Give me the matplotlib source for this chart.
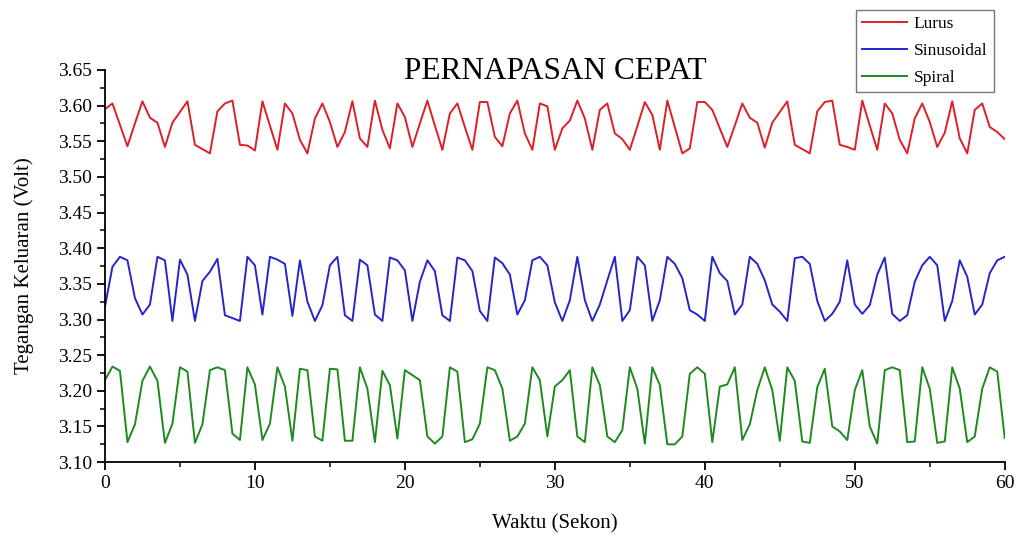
import numpy as np
import matplotlib.pyplot as plt
from matplotlib.ticker import MultipleLocator

plt.rcParams['font.family'] = ['Liberation Serif', 'DejaVu Serif']

# waktu sampel tiap 0.5 detik
waktu = np.arange(0, 60.5, 0.5)

lurus = [
    3.595, 3.603, 3.573, 3.543, 3.575, 3.606, 3.583, 3.576, 3.542, 3.576,
    3.591, 3.606, 3.545, 3.539, 3.533, 3.592, 3.603, 3.607, 3.545, 3.544,
    3.537, 3.606, 3.572, 3.538, 3.603, 3.589, 3.552, 3.533, 3.582, 3.603,
    3.577, 3.542, 3.563, 3.606, 3.554, 3.542, 3.607, 3.566, 3.540, 3.603,
    3.584,
    3.542, 3.575, 3.607, 3.572, 3.538, 3.589, 3.603, 3.570, 3.538, 3.605,
    3.605, 3.556, 3.543, 3.589, 3.607, 3.561, 3.538, 3.603, 3.599, 3.538,
    3.568, 3.579, 3.607, 3.582, 3.538, 3.594, 3.603, 3.561, 3.553, 3.538,
    3.571, 3.605, 3.587, 3.538, 3.607, 3.570, 3.533, 3.540, 3.605, 3.605,
    3.594, 3.568, 3.542, 3.572, 3.603, 3.583, 3.576, 3.541, 3.576, 3.591,
    3.606, 3.545, 3.539, 3.533, 3.592, 3.605, 3.607, 3.545, 3.542, 3.538,
    3.607, 3.572, 3.538, 3.603, 3.589, 3.552, 3.533, 3.582, 3.603, 3.577,
    3.542, 3.562, 3.606, 3.554, 3.533, 3.594, 3.603, 3.570, 3.563, 3.553,
]

sinusoidal = [
    3.318, 3.374, 3.388, 3.383, 3.330, 3.307, 3.321, 3.388, 3.383, 3.298,
    3.384, 3.363, 3.298, 3.354, 3.367, 3.385, 3.306, 3.302, 3.298, 3.388,
    3.376, 3.307, 3.388, 3.384, 3.378, 3.305, 3.383, 3.325, 3.298, 3.320,
    3.376, 3.388, 3.306, 3.298, 3.384, 3.376, 3.307, 3.298, 3.387, 3.383,
    3.369,
    3.298, 3.353, 3.383, 3.368, 3.306, 3.298, 3.387, 3.383, 3.368, 3.312,
    3.298, 3.387, 3.379, 3.363, 3.307, 3.327, 3.383, 3.388, 3.376, 3.324,
    3.298, 3.327, 3.388, 3.327, 3.298, 3.321, 3.355, 3.388, 3.298, 3.313,
    3.388, 3.376, 3.298, 3.327, 3.388, 3.378, 3.358, 3.313, 3.307, 3.298,
    3.388, 3.365, 3.354, 3.307, 3.321, 3.388, 3.378, 3.355, 3.321, 3.311,
    3.298, 3.386, 3.388, 3.378, 3.326, 3.298, 3.308, 3.325, 3.383, 3.321,
    3.308, 3.320, 3.363, 3.387, 3.308, 3.298, 3.306, 3.353, 3.376, 3.388,
    3.376, 3.298, 3.326, 3.383, 3.360, 3.307, 3.321, 3.365, 3.383, 3.388,
]

spiral = [
    3.215, 3.234, 3.228, 3.128, 3.153, 3.214, 3.234, 3.214, 3.127, 3.154,
    3.233, 3.227, 3.127, 3.153, 3.229, 3.233, 3.229, 3.140, 3.131, 3.233,
    3.209, 3.131, 3.154, 3.233, 3.206, 3.130, 3.231, 3.229, 3.136, 3.130,
    3.231, 3.230, 3.130, 3.130, 3.233, 3.203, 3.128, 3.228, 3.208, 3.133,
    3.229,
    3.222, 3.215, 3.136, 3.126, 3.136, 3.233, 3.227, 3.128, 3.132, 3.154,
    3.233, 3.229, 3.203, 3.130, 3.136, 3.154, 3.233, 3.215, 3.136, 3.206,
    3.215, 3.229, 3.136, 3.128, 3.233, 3.208, 3.136, 3.128, 3.145, 3.233,
    3.203, 3.126, 3.233, 3.208, 3.125, 3.125, 3.136, 3.224, 3.233, 3.224,
    3.128, 3.206, 3.209, 3.233, 3.131, 3.153, 3.201, 3.233, 3.201, 3.130,
    3.233, 3.214, 3.129, 3.127, 3.205, 3.231, 3.150, 3.143, 3.131, 3.201,
    3.229, 3.150, 3.126, 3.229, 3.233, 3.229, 3.128, 3.129, 3.233, 3.203,
    3.127, 3.129, 3.233, 3.203, 3.128, 3.136, 3.203, 3.233, 3.227, 3.134,
]

fig = plt.figure(figsize=(10.19, 5.38), dpi=100)
ax = fig.add_axes([0.103, 0.141, 0.883, 0.729])

ax.plot(waktu, lurus, color='#dc2027', lw=1.4, label='Lurus')
ax.plot(waktu, sinusoidal, color='#2626c8', lw=1.4, label='Sinusoidal')
ax.plot(waktu, spiral, color='#1e8a1e', lw=1.4, label='Spiral')

ax.set_xlim(0, 60)
ax.set_ylim(3.10, 3.65)
ax.xaxis.set_major_locator(MultipleLocator(10))
ax.xaxis.set_minor_locator(MultipleLocator(5))
ax.yaxis.set_major_locator(MultipleLocator(0.05))
ax.yaxis.set_minor_locator(MultipleLocator(0.025))
ax.yaxis.set_major_formatter(plt.FormatStrFormatter('%.2f'))

for s in ['top', 'right']:
    ax.spines[s].set_visible(False)
for s in ['left', 'bottom']:
    ax.spines[s].set_linewidth(1.3)

ax.tick_params(which='major', direction='out', length=6, width=1.3, labelsize=14)
ax.tick_params(which='minor', direction='out', length=3.5, width=1.1)

ax.set_xlabel('Waktu (Sekon)', fontsize=15, labelpad=16)
ax.set_ylabel('Tegangan Keluaran (Volt)', fontsize=15, labelpad=17)
fig.text(0.545, 0.868, 'PERNAPASAN CEPAT', fontsize=22.5, ha='center', va='center')

leg = fig.legend(loc='upper right', bbox_to_anchor=(0.975, 0.982), fontsize=12.5,
                 frameon=True, fancybox=False, handlelength=2.6, handletextpad=0.4,
                 borderpad=0.35, labelspacing=0.62, borderaxespad=0)
leg.get_frame().set_edgecolor('#555555')
leg.get_frame().set_linewidth(1.0)

fig.savefig('out.png', dpi=100)
